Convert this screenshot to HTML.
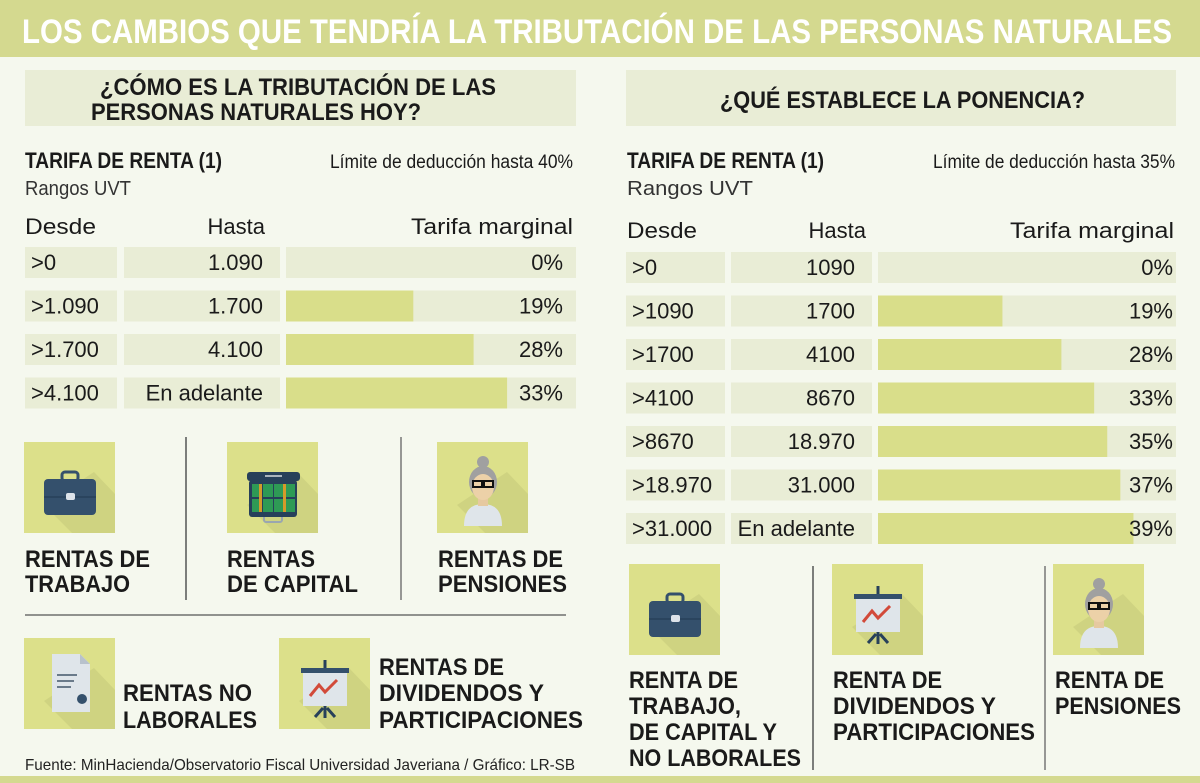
<!DOCTYPE html>
<html><head><meta charset="utf-8"><style>
html,body{margin:0;padding:0;background:#f5f8ee}
svg{display:block}
text{font-family:"Liberation Sans Narrow","Liberation Sans",sans-serif;fill:#1a1a1a}
.b{font-weight:bold}
</style></head><body>
<svg id="s" width="1200" height="783" viewBox="0 0 1200 783">
<rect x="0" y="0" width="1200" height="783" fill="#f5f8ee"/>
<rect x="0" y="0" width="1200" height="57" fill="#d4d98f"/>
<text x="22" y="43" class="b" font-size="34" textLength="1150" lengthAdjust="spacingAndGlyphs" style="fill:#fff">LOS CAMBIOS QUE TENDRÍA LA TRIBUTACIÓN DE LAS PERSONAS NATURALES</text>

<rect x="25" y="70" width="551" height="56" fill="#e9edd6"/>
<text x="100" y="95" class="b" font-size="24" textLength="396" lengthAdjust="spacingAndGlyphs">¿CÓMO ES LA TRIBUTACIÓN DE LAS</text>
<text x="91" y="120" class="b" font-size="24" textLength="330" lengthAdjust="spacingAndGlyphs">PERSONAS NATURALES HOY?</text>
<rect x="626" y="70" width="550" height="56" fill="#e9edd6"/>
<text x="720" y="108" class="b" font-size="24" textLength="365" lengthAdjust="spacingAndGlyphs">¿QUÉ ESTABLECE LA PONENCIA?</text>

<text x="25" y="168" class="b" font-size="22" textLength="197" lengthAdjust="spacingAndGlyphs">TARIFA DE RENTA (1)</text>
<text x="330" y="168" font-size="19" textLength="243" lengthAdjust="spacingAndGlyphs">Límite de deducción hasta 40%</text>
<text x="25" y="195" font-size="20" textLength="106" lengthAdjust="spacingAndGlyphs" style="fill:#333">Rangos UVT</text>
<text x="25" y="234" font-size="22" textLength="71" lengthAdjust="spacingAndGlyphs">Desde</text>
<text x="265" y="234" font-size="22" text-anchor="end">Hasta</text>
<text x="573" y="234" font-size="22" text-anchor="end" textLength="162" lengthAdjust="spacingAndGlyphs">Tarifa marginal</text>

<text x="627" y="168" class="b" font-size="22" textLength="197" lengthAdjust="spacingAndGlyphs">TARIFA DE RENTA (1)</text>
<text x="933" y="168" font-size="19" textLength="242" lengthAdjust="spacingAndGlyphs">Límite de deducción hasta 35%</text>
<text x="627" y="195" font-size="20" textLength="126" lengthAdjust="spacingAndGlyphs" style="fill:#333">Rangos UVT</text>
<text x="627" y="238" font-size="22" textLength="70" lengthAdjust="spacingAndGlyphs">Desde</text>
<text x="866" y="238" font-size="22" text-anchor="end">Hasta</text>
<text x="1174" y="238" font-size="22" text-anchor="end" textLength="164" lengthAdjust="spacingAndGlyphs">Tarifa marginal</text>

<g id="leftTable"></g>
<g id="rightTable"></g>

<line x1="186" y1="437" x2="186" y2="600" stroke="#555" stroke-width="1.5"/>
<line x1="401" y1="437" x2="401" y2="600" stroke="#777" stroke-width="1.5"/>
<line x1="25" y1="615" x2="566" y2="615" stroke="#555" stroke-width="1.2"/>
<line x1="813" y1="566" x2="813" y2="770" stroke="#555" stroke-width="1.5"/>
<line x1="1045" y1="566" x2="1045" y2="770" stroke="#777" stroke-width="1.5"/>

<g id="icons"></g>

<g class="b" font-size="24">
<text x="25" y="567" textLength="125" lengthAdjust="spacingAndGlyphs">RENTAS DE</text>
<text x="25" y="592" textLength="105" lengthAdjust="spacingAndGlyphs">TRABAJO</text>
<text x="227" y="567" textLength="88" lengthAdjust="spacingAndGlyphs">RENTAS</text>
<text x="227" y="592" textLength="131" lengthAdjust="spacingAndGlyphs">DE CAPITAL</text>
<text x="438" y="567" textLength="125" lengthAdjust="spacingAndGlyphs">RENTAS DE</text>
<text x="438" y="592" textLength="129" lengthAdjust="spacingAndGlyphs">PENSIONES</text>
<text x="123" y="701" textLength="129" lengthAdjust="spacingAndGlyphs">RENTAS NO</text>
<text x="123" y="728" textLength="134" lengthAdjust="spacingAndGlyphs">LABORALES</text>
<text x="379" y="675" textLength="125" lengthAdjust="spacingAndGlyphs">RENTAS DE</text>
<text x="379" y="701" textLength="165" lengthAdjust="spacingAndGlyphs">DIVIDENDOS Y</text>
<text x="379" y="728" textLength="204" lengthAdjust="spacingAndGlyphs">PARTICIPACIONES</text>
<text x="629" y="688" textLength="109" lengthAdjust="spacingAndGlyphs">RENTA DE</text>
<text x="629" y="714" textLength="112" lengthAdjust="spacingAndGlyphs">TRABAJO,</text>
<text x="629" y="740" textLength="148" lengthAdjust="spacingAndGlyphs">DE CAPITAL Y</text>
<text x="629" y="766" textLength="172" lengthAdjust="spacingAndGlyphs">NO LABORALES</text>
<text x="833" y="688" textLength="109" lengthAdjust="spacingAndGlyphs">RENTA DE</text>
<text x="833" y="714" textLength="163" lengthAdjust="spacingAndGlyphs">DIVIDENDOS Y</text>
<text x="833" y="740" textLength="202" lengthAdjust="spacingAndGlyphs">PARTICIPACIONES</text>
<text x="1055" y="688" textLength="109" lengthAdjust="spacingAndGlyphs">RENTA DE</text>
<text x="1055" y="714" textLength="126" lengthAdjust="spacingAndGlyphs">PENSIONES</text>
</g>

<text x="25" y="770" font-size="16" textLength="550" lengthAdjust="spacingAndGlyphs" style="fill:#222">Fuente: MinHacienda/Observatorio Fiscal Universidad Javeriana / Gráfico: LR-SB</text>
<rect x="0" y="776" width="1200" height="7" fill="#d4d98f"/>
</svg>
<script>
const leftDesde = [">0", ">1.090", ">1.700", ">4.100"];
const leftHasta = ["1.090", "1.700", "4.100", "En adelante"];
const leftRates = [0, 19, 28, 33];
const rightDesde = [">0", ">1090", ">1700", ">4100", ">8670", ">18.970", ">31.000"];
const rightHasta = ["1090", "1700", "4100", "8670", "18.970", "31.000", "En adelante"];
const rightRates = [0, 19, 28, 33, 35, 37, 39];

const NS = "http://www.w3.org/2000/svg";
function mk(tag, attrs, parent) {
  const e = document.createElementNS(NS, tag);
  for (const k in attrs) e.setAttribute(k, attrs[k]);
  parent.appendChild(e);
  return e;
}
function drawTable(g, desde, hasta, rates, cfg) {
  const barScale = v => v * cfg.pxPer;
  desde.forEach((d, i) => {
    const y = cfg.y0 + i * cfg.step;
    const c1 = mk('rect', {x: cfg.c1, y: y, width: cfg.w1, height: cfg.h, fill: '#e9edd6'}, g);
    
    
    const c2 = mk('rect', {x: cfg.c2, y: y, width: cfg.w2, height: cfg.h, fill: '#e9edd6'}, g);
    
    
    const c3 = mk('rect', {x: cfg.c3, y: y, width: cfg.w3, height: cfg.h, fill: '#e9edd6'}, g);
    
    
    const bar = mk('rect', {x: cfg.c3, y: y, width: Math.min(barScale(rates[i]), cfg.w3), height: cfg.h, fill: '#d9de8a'}, g);
    
    
    const t1 = mk('text', {x: cfg.c1 + 6, y: y + 23, 'font-size': 22}, g);
    t1.textContent = d;
    
    
    const t2 = mk('text', {x: cfg.c2 + cfg.w2 - 17, y: y + 23, 'font-size': 22, 'text-anchor': 'end'}, g);
    t2.textContent = hasta[i];
    
    
    const t3 = mk('text', {x: cfg.c3 + cfg.w3 - 3 - cfg.pctPad, y: y + 23, 'font-size': 22, 'text-anchor': 'end'}, g);
    t3.textContent = rates[i] + '%';
    
    
  });
}
drawTable(document.getElementById('leftTable'), leftDesde, leftHasta, leftRates,
  {y0: 247, step: 43.5, h: 31, c1: 25, w1: 92, c2: 124, w2: 156, c3: 286, w3: 290, pxPer: 6.7, pctPad: 10});
drawTable(document.getElementById('rightTable'), rightDesde, rightHasta, rightRates,
  {y0: 252, step: 43.5, h: 31, c1: 626, w1: 99, c2: 731, w2: 141, c3: 878, w3: 298, pxPer: 6.55, pctPad: 0});

const icons = document.getElementById('icons');
function square(x, y, name) {
  const g = mk('g', {transform: `translate(${x},${y})`}, icons);
  
  
  mk('rect', {x: 0, y: 0, width: 91, height: 91, fill: '#dce08a'}, g);
  mk('polygon', {points: '70,30 91,52 91,91 48,91 20,63', fill: '#cfd381'}, g);
  return g;
}
function briefcase(g) {
  mk('rect', {x: 38, y: 30, width: 16, height: 9, rx: 3, fill: 'none', stroke: '#34506c', 'stroke-width': 3}, g);
  mk('rect', {x: 20, y: 37, width: 52, height: 36, rx: 4, fill: '#34506c'}, g);
  mk('line', {x1: 20, y1: 55, x2: 72, y2: 55, stroke: '#26405a', 'stroke-width': 1.5}, g);
  mk('rect', {x: 42, y: 51, width: 9, height: 7, rx: 2, fill: '#dde3ea'}, g);
}
function money(g) {
  mk('rect', {x: 37, y: 72, width: 18, height: 8, rx: 2, fill: 'none', stroke: '#9aa6b0', 'stroke-width': 2}, g);
  mk('rect', {x: 22, y: 38, width: 48, height: 37, rx: 3, fill: '#27405a'}, g);
  mk('rect', {x: 20, y: 30, width: 53, height: 9, rx: 3, fill: '#27405a'}, g);
  mk('rect', {x: 38, y: 33, width: 17, height: 2, fill: '#aab4bd'}, g);
  for (let r = 0; r < 2; r++) for (let c = 0; c < 4; c++)
    mk('rect', {x: 25 + c * 11, y: 42 + r * 15, width: 10, height: 13, fill: '#2e9a55'}, g);
  mk('rect', {x: 32, y: 42, width: 3, height: 28, fill: '#d49a2a'}, g);
  mk('rect', {x: 56, y: 42, width: 3, height: 28, fill: '#d49a2a'}, g);
}
function pensioner(g) {
  mk('path', {d: 'M27 84 Q27 62 46 62 Q65 62 65 84 Z', fill: '#dfe5ea'}, g);
  mk('rect', {x: 41, y: 52, width: 10, height: 12, fill: '#e6c9a0'}, g);
  mk('circle', {cx: 46, cy: 20, r: 6, fill: '#a0a0a0'}, g);
  mk('ellipse', {cx: 46, cy: 40, rx: 14, ry: 16, fill: '#a0a0a0'}, g);
  mk('ellipse', {cx: 46, cy: 45, rx: 11, ry: 13, fill: '#ecd1a8'}, g);
  mk('rect', {x: 36, y: 39, width: 9, height: 6, fill: 'none', stroke: '#111', 'stroke-width': 2}, g);
  mk('rect', {x: 47, y: 39, width: 9, height: 6, fill: 'none', stroke: '#111', 'stroke-width': 2}, g);
}
function board(g) {
  mk('line', {x1: 46, y1: 22, x2: 46, y2: 30, stroke: '#27405a', 'stroke-width': 3}, g);
  mk('rect', {x: 22, y: 30, width: 48, height: 5, fill: '#34506c'}, g);
  mk('rect', {x: 24, y: 35, width: 44, height: 33, fill: '#dfe5ea'}, g);
  mk('polyline', {points: '31,58 40,47 46,54 58,42', fill: 'none', stroke: '#d24a3a', 'stroke-width': 3}, g);
  mk('line', {x1: 46, y1: 68, x2: 46, y2: 80, stroke: '#27405a', 'stroke-width': 3}, g);
  mk('line', {x1: 44, y1: 70, x2: 36, y2: 79, stroke: '#27405a', 'stroke-width': 3}, g);
  mk('line', {x1: 48, y1: 70, x2: 56, y2: 79, stroke: '#27405a', 'stroke-width': 3}, g);
}
function doc(g) {
  mk('path', {d: 'M28 16 L56 16 L66 26 L66 74 L28 74 Z', fill: '#dfe5ea'}, g);
  mk('path', {d: 'M56 16 L56 26 L66 26 Z', fill: '#b8c2cc'}, g);
  for (let i = 0; i < 3; i++) mk('rect', {x: 33, y: 36 + i * 6, width: 20 - i * 3, height: 2, fill: '#6a7a8a'}, g);
  mk('circle', {cx: 58, cy: 61, r: 5, fill: '#34506c'}, g);
}
briefcase(square(24, 442, 'icon-trabajo'));
money(square(227, 442, 'icon-capital'));
pensioner(square(437, 442, 'icon-pensiones'));
doc(square(24, 638, 'icon-no-laborales'));
board(square(279, 638, 'icon-dividendos'));
briefcase(square(629, 564, 'icon-right-trabajo'));
board(square(832, 564, 'icon-right-dividendos'));
pensioner(square(1053, 564, 'icon-right-pensiones'));
</script>
</body></html>
